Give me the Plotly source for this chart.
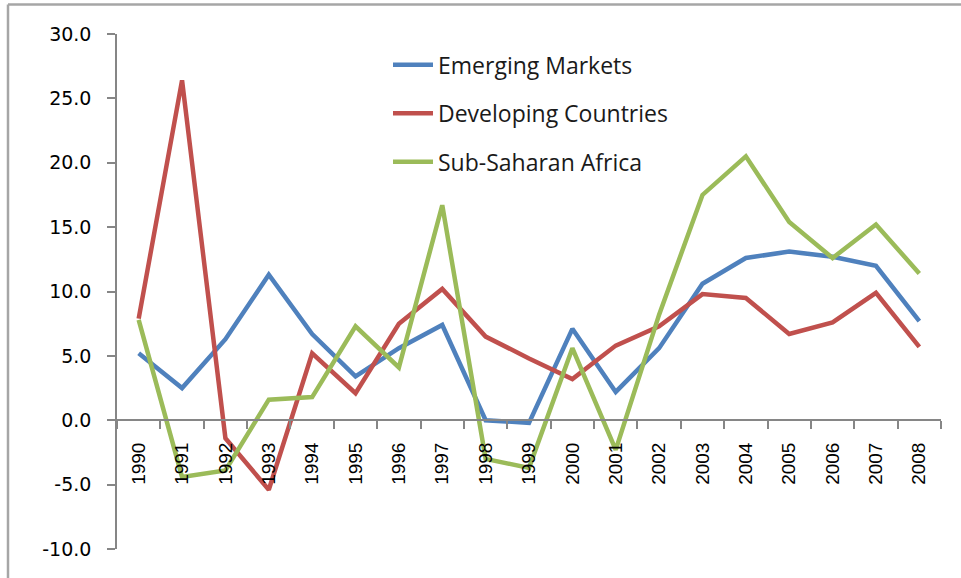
import plotly.graph_objects as go

years = [str(y) for y in range(1990, 2009)]
emerging = [5.2, 2.5, 6.3, 11.3, 6.7, 3.4, 5.6, 7.4, 0.0, -0.2, 7.1, 2.2, 5.6, 10.6, 12.6, 13.1, 12.7, 12.0, 7.7]
developing = [7.9, 26.4, -1.4, -5.4, 5.2, 2.1, 7.5, 10.2, 6.5, 4.8, 3.2, 5.8, 7.3, 9.8, 9.5, 6.7, 7.6, 9.9, 5.7]
ssa = [7.8, -4.4, -3.9, 1.6, 1.8, 7.3, 4.1, 16.7, -3.0, -3.7, 5.6, -2.3, 8.2, 17.5, 20.5, 15.4, 12.6, 15.2, 11.4]
series_names = ["Emerging Markets", "Developing Countries", "Sub-Saharan Africa"]
colors = ["#4F81BD", "#C0504D", "#9BBB59"]
y_ticks = [-10, -5, 0, 5, 10, 15, 20, 25, 30]
y_ticktext = [f"{v:.1f}" for v in y_ticks]

W, H = 961, 578
L, R, T, B = 117, 941, 33.6, 548.8
pw, ph = R - L, B - T

def px_x(p):
    return (p - L) / pw

def px_y(p):
    return (B - p) / ph

fig = go.Figure()
for i, (name, vals) in enumerate(zip(series_names, [emerging, developing, ssa])):
    fig.add_trace(go.Scatter(
        x=years, y=vals, mode="lines", name=name,
        line=dict(color=colors[i], width=4.5),
        legendgroup=name,
    ))

axis_col = "#868686"
fig.update_layout(
    width=W, height=H,
    margin=dict(l=L, r=W - R, t=T, b=H - B),
    paper_bgcolor="white", plot_bgcolor="white",
    showlegend=True,
    legend=dict(
        x=px_x(388), y=px_y(43), xanchor="left", yanchor="top",
        font=dict(family="Open Sans", size=23, color="#1a1a1a"),
        bgcolor="rgba(0,0,0,0)", tracegroupgap=15.5, traceorder="grouped",
        itemwidth=40,
    ),
    xaxis=dict(
        type="category", range=[-0.5, 18.5],
        anchor="free", position=(0 - y_ticks[0]) / (y_ticks[-1] - y_ticks[0]),
        showline=True, linecolor=axis_col, linewidth=1.5,
        ticks="outside", ticklen=8, tickcolor=axis_col, tickwidth=1.5,
        tickson="boundaries", tickangle=-90,
        tickfont=dict(family="Liberation Sans", size=19, color="black"),
        ticklabelstandoff=14,
        showgrid=False, zeroline=False,
    ),
    yaxis=dict(
        range=[y_ticks[0], y_ticks[-1]], tickvals=y_ticks, ticktext=y_ticktext,
        showline=True, linecolor=axis_col, linewidth=1.5,
        ticks="outside", ticklen=8, tickcolor=axis_col, tickwidth=1.5,
        tickfont=dict(family="DejaVu Sans", size=19, color="black"),
        ticklabelstandoff=12,
        showgrid=False, zeroline=False,
    ),
    shapes=[
        dict(type="line", xref="paper", yref="paper",
             x0=px_x(8), x1=px_x(W), y0=px_y(4), y1=px_y(4),
             line=dict(color="#a6a6a6", width=2.5)),
        dict(type="line", xref="paper", yref="paper",
             x0=px_x(8), x1=px_x(8), y0=px_y(4), y1=px_y(H),
             line=dict(color="#a6a6a6", width=2.5)),
    ],
)

fig.write_html(
    "out.html",
    config={"displayModeBar": False},
    post_script="document.body.style.margin='0';document.body.style.overflow='hidden';",
)
